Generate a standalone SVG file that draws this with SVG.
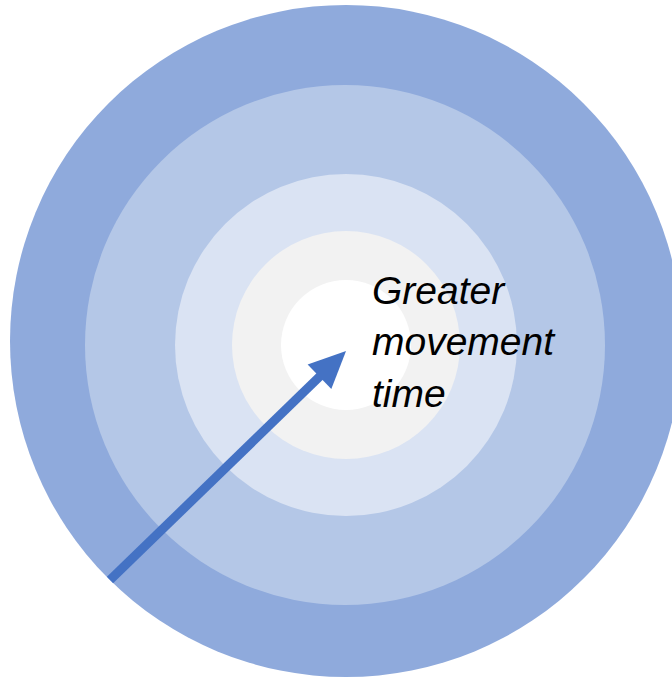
<svg xmlns="http://www.w3.org/2000/svg" width="672" height="681" viewBox="0 0 672 681">
<style>
.lbl{font-family:"Liberation Sans","Open Sans",sans-serif;font-style:italic;font-size:39px;fill:#000}
</style>
<defs>
<marker id="ah" markerUnits="userSpaceOnUse" markerWidth="40" markerHeight="40" refX="0" refY="17" orient="auto" overflow="visible">
<path d="M-1,0 L36,17 L-1,34 Z" fill="#4472C4"/>
</marker>
</defs>
<rect width="672" height="681" fill="#fff"/>
<g id="ring1"><circle cx="346" cy="341" r="336" fill="#8FAADC"/></g>
<g id="ring2"><circle cx="345" cy="345" r="260" fill="#B4C7E7"/></g>
<g id="ring3"><circle cx="346" cy="345" r="171" fill="#DAE3F3"/></g>
<g id="ring4"><circle cx="346" cy="345" r="114" fill="#F2F2F2"/></g>
<g id="center"><circle cx="346" cy="345" r="65" fill="#FFFFFF"/></g>
<g id="connectors">
<line x1="110" y1="580" x2="320.2" y2="376.1" stroke="#4472C4" stroke-width="9" marker-end="url(#ah)"/>
</g>
<g id="label">
<text class="lbl" x="372" y="304">Greater</text>
<text class="lbl" x="372" y="355">movement</text>
<text class="lbl" x="372" y="407">time</text>
</g>
</svg>
